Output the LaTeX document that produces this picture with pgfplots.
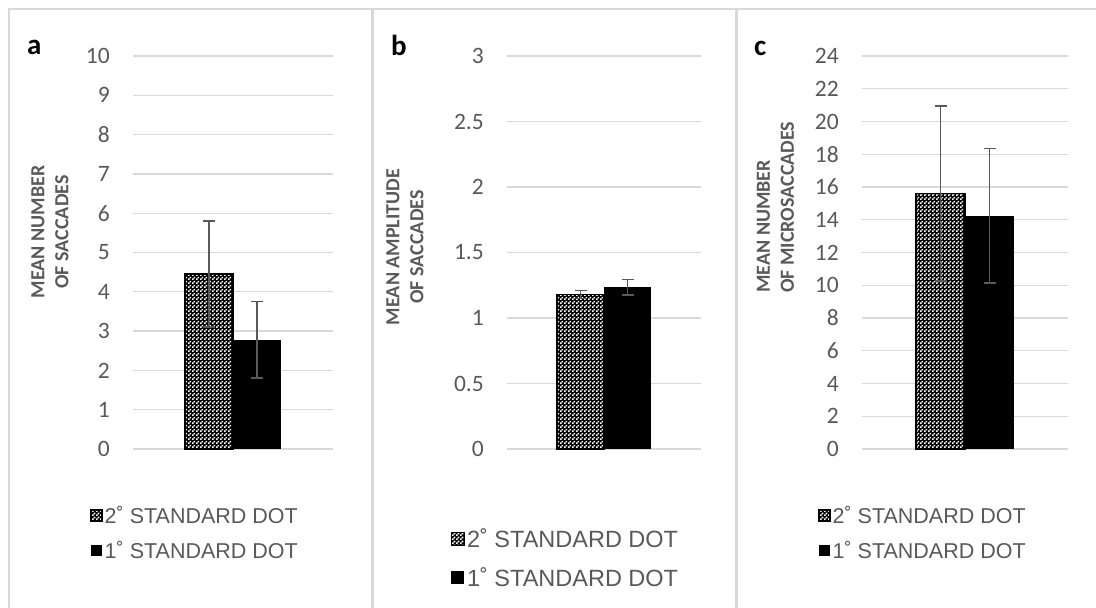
\documentclass[border=0pt]{standalone}
\usepackage{fontspec}
\setmainfont{Carlito}
\newfontfamily\arialf{Liberation Sans}
\usepackage{pgfplots}
\pgfplotsset{compat=1.18}
\usetikzlibrary{patterns}
\definecolor{tg}{HTML}{595959}
\definecolor{gridc}{HTML}{D9D9D9}
\definecolor{errc}{HTML}{595959}
\pgfdeclarepatternformonly{mydots}{\pgfpointorigin}{\pgfqpoint{4pt}{4pt}}{\pgfqpoint{4pt}{4pt}}{%
 \pgfpathrectangle{\pgfqpoint{0.05pt}{0.05pt}}{\pgfqpoint{1.9pt}{1.9pt}}%
 \pgfpathrectangle{\pgfqpoint{2.05pt}{2.05pt}}{\pgfqpoint{1.9pt}{1.9pt}}%
 \pgfusepath{fill}}
\pgfplotsset{
 panel/.style={
  scale only axis, height=393pt, anchor=south west,
  xmin=-1, xmax=1, ymin=0, enlargelimits=false,
  axis line style={draw=none}, xtick=\empty,
  major tick length=0pt,
  ymajorgrids, grid style={gridc, line width=1.3pt},
  /pgf/number format/assume math mode=true,
  yticklabel style={font=\fontsize{23.5}{27}\selectfont, color=tg, inner sep=0pt, xshift=-23pt},
  ybar=0pt, clip=false,
  error bars/y dir=both, error bars/y explicit,
  error bars/error bar style={errc, line width=1.5pt},
  error bars/error mark options={errc, rotate=90, mark size=6pt, line width=1.5pt},
  legend cell align=left,
  legend image code/.code={\path[##1] (0pt,-5.5pt) rectangle (11pt,5.5pt);},
  legend style={draw=none, fill=none, text=tg, inner sep=0pt, anchor=north west,
    font=\arialf\fontsize{21.5}{25}\selectfont, row sep=12pt,
    nodes={inner sep=2pt}},
 },
 patbar/.style={preaction={fill=black}, pattern=mydots, pattern color=white, draw=black, line width=1.5pt},
 blkbar/.style={fill=black, draw=none},
}
\begin{document}
\begin{tikzpicture}
\useasboundingbox (0pt,0pt) rectangle (1096pt,608pt);
% panel a
\begin{axis}[panel, at={(133pt,159pt)}, width=200pt, bar width=48pt,
  ymax=10, ytick={0,1,...,10},
  legend style={at={(axis description cs:-0.215,-0.140)}}]
\addplot[patbar] coordinates {(0,4.45) +- (0,1.35)};
\addplot[blkbar] coordinates {(0,2.78) +- (0,0.97)};
\legend{2˚ STANDARD DOT, 1˚ STANDARD DOT}
\end{axis}
% panel b
\begin{axis}[panel, at={(507pt,159pt)}, width=194pt, bar width=47pt,
  ymax=3, ytick={0,0.5,1,1.5,2,2.5,3},
  legend style={at={(axis description cs:-0.292,-0.198)},
    font=\arialf\fontsize{23.5}{27}\selectfont, row sep=14pt},
  legend image code/.code={\path[#1] (0pt,-6.5pt) rectangle (13pt,6.5pt);}]
\addplot[patbar] coordinates {(0,1.18) +- (0,0.03)};
\addplot[blkbar] coordinates {(0,1.235) +- (0,0.06)};
\legend{2˚ STANDARD DOT, 1˚ STANDARD DOT}
\end{axis}
% panel c
\begin{axis}[panel, at={(862pt,159pt)}, width=206pt, bar width=49pt,
  ymax=24, ytick={0,2,...,24},
  legend style={at={(axis description cs:-0.214,-0.140)}}]
\addplot[patbar] coordinates {(0,15.6) +- (0,5.35)};
\addplot[blkbar] coordinates {(0,14.25) +- (0,4.1)};
\legend{2˚ STANDARD DOT, 1˚ STANDARD DOT}
\end{axis}
% panel letters
\node[font=\bfseries\fontsize{29}{31}\selectfont, anchor=base west, inner sep=0pt] at (27pt,553pt) {a};
\node[font=\bfseries\fontsize{29}{31}\selectfont, anchor=base west, inner sep=0pt] at (391pt,552pt) {b};
\node[font=\bfseries\fontsize{29}{31}\selectfont, anchor=base west, inner sep=0pt] at (754pt,552pt) {c};
% y labels
\node[rotate=90, align=center, font=\bfseries\fontsize{20}{24}\selectfont, text=tg, inner sep=0pt] at (50pt,376pt) {MEAN NUMBER\\OF SACCADES};
\node[rotate=90, align=center, font=\bfseries\fontsize{20}{24}\selectfont, text=tg, inner sep=0pt] at (405pt,361pt) {MEAN AMPLITUDE\\OF SACCADES};
\node[rotate=90, align=left, anchor=west, font=\bfseries\fontsize{20}{24}\selectfont, text=tg, inner sep=0pt] at (775.5pt,315pt) {MEAN NUMBER\\OF MICROSACCADES};
% borders
\draw[gridc, line width=1.5pt] (9pt,-2pt) -- (9pt,599pt) -- (1100pt,599pt);
\draw[gridc, line width=3pt] (372.5pt,-2pt) -- (372.5pt,599pt);
\draw[gridc, line width=3pt] (736.5pt,-2pt) -- (736.5pt,599pt);
\end{tikzpicture}
\end{document}
